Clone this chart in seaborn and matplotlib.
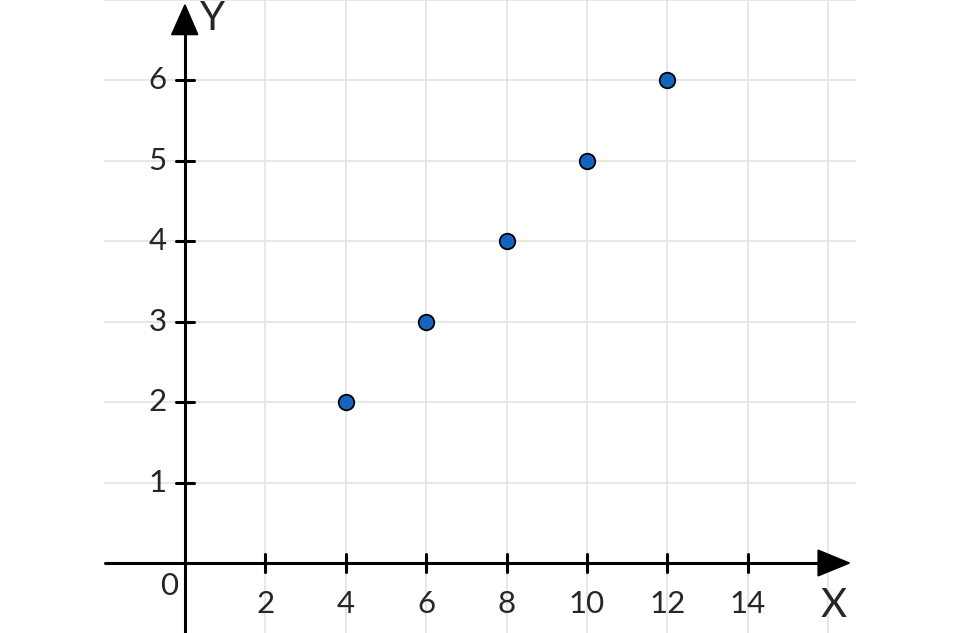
import matplotlib
matplotlib.use("Agg")
import matplotlib.pyplot as plt
import seaborn as sns
import pandas as pd

# data
x_vals = [4, 6, 8, 10, 12]
y_vals = [2, 3, 4, 5, 6]
x_ticks = [2, 4, 6, 8, 10, 12, 14]
y_ticks = [1, 2, 3, 4, 5, 6]

df = pd.DataFrame({"x": x_vals, "y": y_vals})

sns.set_style("white")
plt.rcParams['font.family'] = ['Lato', 'DejaVu Sans']

fig = plt.figure(figsize=(9.6, 6.33), dpi=100)
ax = fig.add_axes([0, 0, 1, 1])
ax.set_xlim(-4.60, 19.28)
ax.set_ylim(-0.87, 7.0)
ax.axis("off")

# light grid
grid_col = "#e3e3e3"
for gx in range(2, 17, 2):
    ax.plot([gx, gx], [-0.87, 7.0], color=grid_col, lw=1.2, zorder=0)
for gy in range(1, 8):
    ax.plot([-2, 16.67], [gy, gy], color=grid_col, lw=1.2, zorder=0)

# axes with arrows
ax.plot([-2, 15.8], [0, 0], color="black", lw=2.2, zorder=2)
ax.plot([0, 0], [-0.87, 6.6], color="black", lw=2.2, zorder=2)
ax.fill([15.75, 16.53, 15.75], [0.16, 0, -0.16], color="black", zorder=3)
ax.fill([-0.33, 0, 0.32], [6.57, 6.94, 6.57], color="black", zorder=3)

# crossing ticks
for t in x_ticks:
    ax.plot([t, t], [-0.11, 0.11], color="black", lw=2.2, zorder=2)
    ax.text(t, -0.51, str(t), ha="center", va="center", fontsize=22.5)
for t in y_ticks:
    ax.plot([-0.22, 0.22], [t, t], color="black", lw=2.2, zorder=2)
    ax.text(-0.45, t, str(t), ha="right", va="center", fontsize=22.5)
ax.text(-0.4, -0.29, "0", ha="center", va="center", fontsize=22.5)

ax.text(0.38, 6.77, "Y", ha="left", va="center", fontsize=29)
ax.text(15.8, -0.53, "X", ha="left", va="center", fontsize=29)

sns.scatterplot(data=df, x="x", y="y", ax=ax, s=125, color="#1565c0",
                edgecolor="black", linewidth=1.3, zorder=4, legend=False)

fig.savefig("out.png", dpi=100)
